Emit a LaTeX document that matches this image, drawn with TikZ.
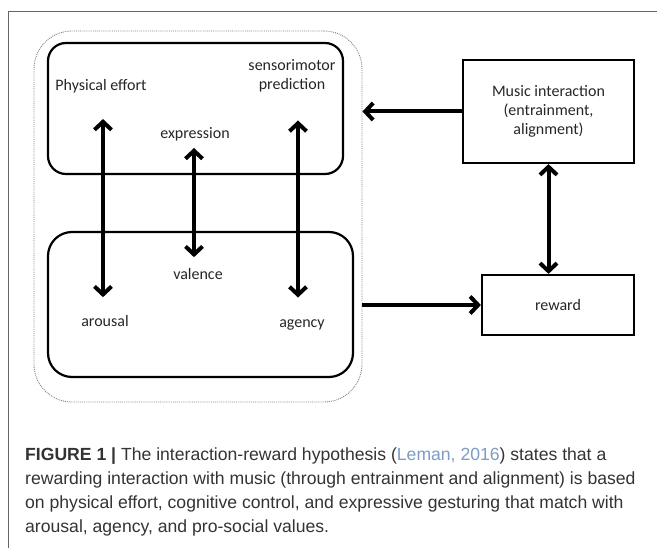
\documentclass[tikz,border=0pt]{standalone}
\usepackage{fontspec}
\setmainfont{Carlito}
\newfontfamily\capfont{Liberation Sans}
\usetikzlibrary{arrows.meta}
\definecolor{citeblue}{RGB}{125,155,195}

\begin{document}
\begin{tikzpicture}[x=1pt, y=-1pt]
\tikzstyle{every node} = [font=\fontsize{16}{19}\selectfont, text=black!85, inner sep=0pt]
\tikzstyle{box} = [draw, line width=2.2pt, rectangle]
\tikzstyle{link} = [line width=4pt, {Straight Barb[length=8pt,width=17pt]}-{Straight Barb[length=8pt,width=17pt]}]
\tikzstyle{onelink} = [line width=4pt, -{Straight Barb[length=8pt,width=17pt]}]
\useasboundingbox (0,0) rectangle (657,548);
\draw[black!60, line width=1pt] (657,12) -- (8,12) -- (8,548);

% groups
\node[draw, gray, densely dotted, line width=0.9pt, rounded corners=38pt,
  minimum width=328pt, minimum height=371pt] (group) at (198,216.5) {};
\node[box, rounded corners=18pt, minimum width=295pt, minimum height=131pt] (upper) at (195.5,108.5) {};
\node[box, rounded corners=24pt, minimum width=305pt, minimum height=145pt] (lower) at (200.5,304.5) {};

% labels
\node (pe) at (101,86) {Physical effort};
\node[align=center] (sp) at (292,76) {sensorimotor\\prediction};
\node (ex) at (195,134) {expression};
\node (va) at (198,274) {valence};
\node (ar) at (105,321) {arousal};
\node (ag) at (302,325) {agency};

\node[box, align=center, minimum width=171pt, minimum height=103pt] (mus) at (548.5,111.5)
  {Music interaction\\(entrainment,\\alignment)};
\node[box, minimum width=152pt, minimum height=60pt] (rew) at (558,305) {reward};

\draw[link, shorten <=26pt, shorten >=18pt] ([xshift=2pt]pe.south) -- ([xshift=-2pt]ar.north);
\draw[link, shorten <=7pt, shorten >=11pt] ([xshift=-1pt]ex.south) -- ([xshift=-4pt]va.north);
\draw[link, shorten <=28pt, shorten >=22pt] ([xshift=6pt]sp.south) -- ([xshift=-4pt]ag.north);
\draw[onelink] (mus.west) -- (mus.west -| group.east);
\draw[onelink] (group.east |- rew.west) -- (rew.west);
\draw[link] (mus.south) -- (mus.south |- rew.north);

% caption
\node[anchor=north west, align=left, text=black!80,
  font=\capfont\fontsize{17.6}{23.7}\selectfont] (cap) at (25,448)
  {\textbf{FIGURE 1 |} The interaction-reward hypothesis (\textcolor{citeblue}{Leman, 2016}) states that a\\
   rewarding interaction with music (through entrainment and alignment) is based\\
   on physical effort, cognitive control, and expressive gesturing that match with\\
   arousal, agency, and pro-social values.};
\end{tikzpicture}
\end{document}
